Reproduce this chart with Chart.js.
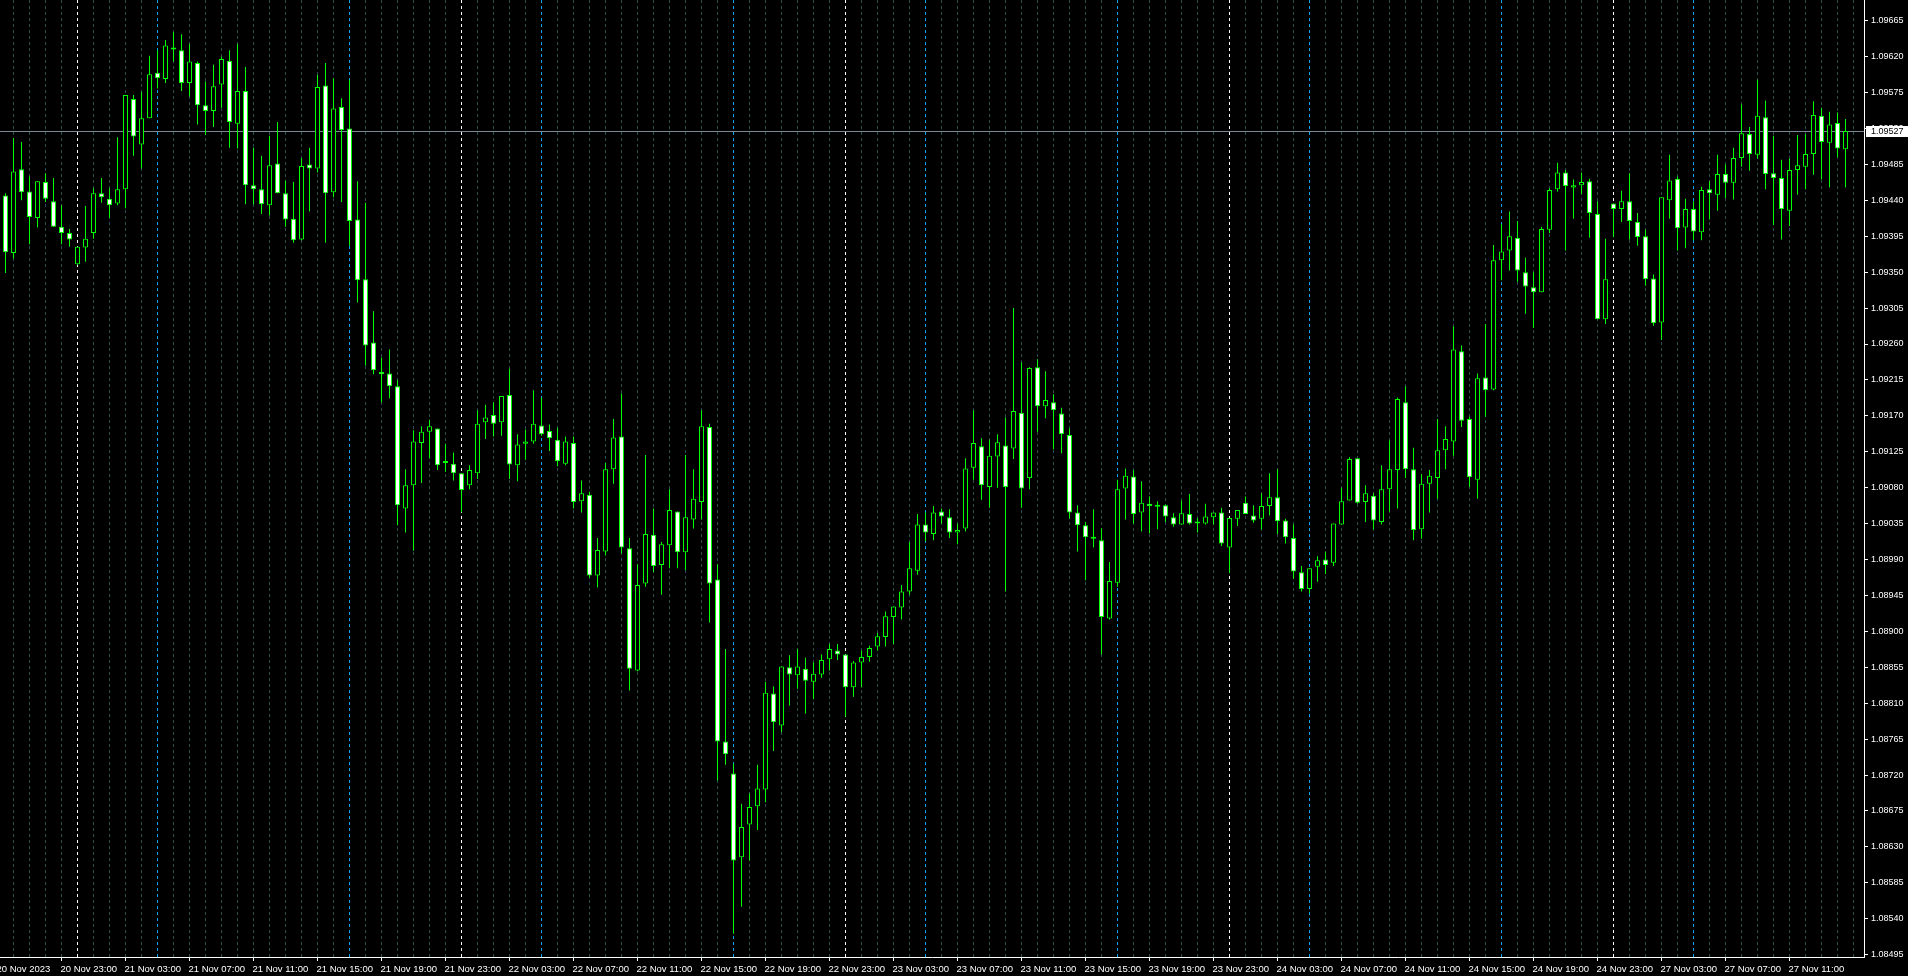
<!DOCTYPE html>
<html>
<head>
<meta charset="utf-8">
<script src="https://cdn.jsdelivr.net/npm/chart.js@4.4.0/dist/chart.umd.min.js"></script>
<style>
  html, body { margin: 0; padding: 0; background: #000; overflow: hidden; }
  #marco { width: 1908px; height: 976px; position: relative; }
</style>
</head>
<body>
<div id="marco"><canvas id="velas"></canvas></div>
<script>
// EURUSD, M30 - velas (20 Nov 19:30 -> 27 Nov 14:30)
const open = [
  1.09446, 1.09374, 1.09479, 1.09451, 1.09418, 1.09463, 1.09439, 1.09407, 1.09399, 1.09360, 1.09381, 1.09399,
  1.09449, 1.09442, 1.09436, 1.09454, 1.09567, 1.09510, 1.09543, 1.09600, 1.09592, 1.09631, 1.09628, 1.09587,
  1.09612, 1.09559, 1.09552, 1.09585, 1.09615, 1.09536, 1.09577, 1.09459, 1.09454, 1.09434, 1.09486, 1.09449,
  1.09417, 1.09391, 1.09485, 1.09480, 1.09584, 1.09450, 1.09557, 1.09530, 1.09416, 1.09341, 1.09262, 1.09225,
  1.09223, 1.09207, 1.09054, 1.09083, 1.09136, 1.09150, 1.09154, 1.09113, 1.09110, 1.09098, 1.09083, 1.09098,
  1.09162, 1.09171, 1.09162, 1.09196, 1.09108, 1.09135, 1.09138, 1.09158, 1.09151, 1.09140, 1.09110, 1.09136,
  1.09063, 1.09071, 1.08970, 1.09000, 1.09103, 1.09144, 1.09004, 1.08851, 1.08960, 1.09021, 1.08983, 1.09008,
  1.09050, 1.08999, 1.09040, 1.09062, 1.09156, 1.08965, 1.08762, 1.08722, 1.08617, 1.08658, 1.08681, 1.08702,
  1.08822, 1.08782, 1.08855, 1.08845, 1.08853, 1.08837, 1.08846, 1.08865, 1.08876, 1.08871, 1.08830, 1.08861,
  1.08868, 1.08881, 1.08893, 1.08918, 1.08930, 1.08950, 1.08976, 1.09034, 1.09022, 1.09050, 1.09043, 1.09024,
  1.09029, 1.09105, 1.09132, 1.09081, 1.09119, 1.09133, 1.09129, 1.09174, 1.09092, 1.09231, 1.09182, 1.09187,
  1.09173, 1.09146, 1.09049, 1.09033, 1.09016, 1.09014, 1.08916, 1.08961, 1.09079, 1.09094, 1.09049, 1.09060,
  1.09057, 1.09058, 1.09043, 1.09034, 1.09047, 1.09035, 1.09035, 1.09043, 1.09049, 1.09005, 1.09041, 1.09061,
  1.09045, 1.09041, 1.09057, 1.09068, 1.09039, 1.09017, 1.08974, 1.08953, 1.08981, 1.08990, 1.08986, 1.09034,
  1.09064, 1.09117, 1.09062, 1.09070, 1.09037, 1.09078, 1.09102, 1.09187, 1.09103, 1.09028, 1.09085, 1.09092,
  1.09127, 1.09138, 1.09251, 1.09166, 1.09090, 1.09218, 1.09203, 1.09365, 1.09377, 1.09393, 1.09350, 1.09331,
  1.09325, 1.09403, 1.09454, 1.09475, 1.09456, 1.09459, 1.09464, 1.09423, 1.09291, 1.09436, 1.09429, 1.09439,
  1.09413, 1.09395, 1.09342, 1.09287, 1.09440, 1.09467, 1.09406, 1.09429, 1.09400, 1.09454, 1.09447, 1.09473,
  1.09462, 1.09493, 1.09523, 1.09497, 1.09544, 1.09474, 1.09468, 1.09427, 1.09478, 1.09482, 1.09498, 1.09546,
  1.09512, 1.09537, 1.09504
];
const high = [
  1.09449, 1.09518, 1.09513, 1.09470, 1.09464, 1.09474, 1.09468, 1.09434, 1.09404, 1.09382, 1.09433, 1.09455,
  1.09468, 1.09455, 1.09519, 1.09572, 1.09572, 1.09576, 1.09621, 1.09628, 1.09641, 1.09651, 1.09648, 1.09636,
  1.09614, 1.09589, 1.09610, 1.09620, 1.09628, 1.09636, 1.09607, 1.09506, 1.09496, 1.09521, 1.09538, 1.09465,
  1.09463, 1.09493, 1.09506, 1.09597, 1.09612, 1.09593, 1.09568, 1.09591, 1.09464, 1.09437, 1.09301, 1.09243,
  1.09253, 1.09215, 1.09103, 1.09152, 1.09157, 1.09165, 1.09154, 1.09135, 1.09124, 1.09098, 1.09108, 1.09177,
  1.09184, 1.09187, 1.09195, 1.09229, 1.09147, 1.09153, 1.09202, 1.09193, 1.09159, 1.09155, 1.09144, 1.09144,
  1.09089, 1.09075, 1.09017, 1.09111, 1.09166, 1.09198, 1.09017, 1.08984, 1.09121, 1.09054, 1.09012, 1.09078,
  1.09050, 1.09121, 1.09103, 1.09177, 1.09160, 1.08984, 1.08878, 1.08734, 1.08684, 1.08697, 1.08733, 1.08837,
  1.08831, 1.08856, 1.08870, 1.08878, 1.08867, 1.08861, 1.08871, 1.08884, 1.08884, 1.08871, 1.08863, 1.08876,
  1.08882, 1.08898, 1.08925, 1.08931, 1.08958, 1.09012, 1.09047, 1.09049, 1.09057, 1.09054, 1.09053, 1.09035,
  1.09117, 1.09177, 1.09142, 1.09140, 1.09147, 1.09168, 1.09305, 1.09237, 1.09231, 1.09241, 1.09226, 1.09197,
  1.09180, 1.09154, 1.09058, 1.09037, 1.09053, 1.09029, 1.08987, 1.09090, 1.09104, 1.09102, 1.09088, 1.09069,
  1.09063, 1.09059, 1.09048, 1.09064, 1.09072, 1.09042, 1.09060, 1.09049, 1.09055, 1.09042, 1.09052, 1.09069,
  1.09058, 1.09073, 1.09098, 1.09103, 1.09041, 1.09034, 1.08982, 1.08979, 1.08994, 1.09000, 1.09035, 1.09080,
  1.09118, 1.09117, 1.09083, 1.09073, 1.09108, 1.09139, 1.09193, 1.09207, 1.09130, 1.09097, 1.09102, 1.09166,
  1.09157, 1.09282, 1.09258, 1.09169, 1.09223, 1.09285, 1.09384, 1.09410, 1.09426, 1.09414, 1.09368, 1.09350,
  1.09407, 1.09455, 1.09487, 1.09478, 1.09466, 1.09475, 1.09467, 1.09439, 1.09392, 1.09436, 1.09452, 1.09474,
  1.09424, 1.09403, 1.09347, 1.09444, 1.09497, 1.09470, 1.09442, 1.09439, 1.09457, 1.09464, 1.09497, 1.09485,
  1.09506, 1.09560, 1.09532, 1.09591, 1.09565, 1.09521, 1.09491, 1.09492, 1.09522, 1.09523, 1.09564, 1.09556,
  1.09551, 1.09550, 1.09542
];
const low = [
  1.09349, 1.09367, 1.09440, 1.09385, 1.09406, 1.09438, 1.09407, 1.09385, 1.09382, 1.09359, 1.09363, 1.09392,
  1.09437, 1.09418, 1.09434, 1.09430, 1.09496, 1.09480, 1.09543, 1.09580, 1.09587, 1.09614, 1.09577, 1.09570,
  1.09535, 1.09522, 1.09532, 1.09556, 1.09506, 1.09505, 1.09435, 1.09435, 1.09423, 1.09421, 1.09449, 1.09407,
  1.09387, 1.09390, 1.09426, 1.09475, 1.09387, 1.09444, 1.09438, 1.09383, 1.09312, 1.09233, 1.09222, 1.09187,
  1.09192, 1.09033, 1.09024, 1.09001, 1.09086, 1.09117, 1.09102, 1.09100, 1.09089, 1.09049, 1.09078, 1.09091,
  1.09141, 1.09144, 1.09145, 1.09091, 1.09088, 1.09115, 1.09135, 1.09145, 1.09126, 1.09107, 1.09108, 1.09054,
  1.09049, 1.08967, 1.08955, 1.08995, 1.09085, 1.08998, 1.08826, 1.08850, 1.08956, 1.08974, 1.08946, 1.08979,
  1.08979, 1.08977, 1.09029, 1.09040, 1.08911, 1.08713, 1.08733, 1.08521, 1.08555, 1.08613, 1.08651, 1.08686,
  1.08750, 1.08774, 1.08807, 1.08828, 1.08797, 1.08815, 1.08842, 1.08851, 1.08864, 1.08793, 1.08818, 1.08830,
  1.08862, 1.08876, 1.08881, 1.08884, 1.08915, 1.08946, 1.08971, 1.09013, 1.09014, 1.09035, 1.09017, 1.09009,
  1.09025, 1.09090, 1.09065, 1.09055, 1.09080, 1.08950, 1.09116, 1.09055, 1.09078, 1.09150, 1.09167, 1.09128,
  1.09123, 1.09041, 1.09000, 1.08964, 1.09005, 1.08871, 1.08915, 1.08956, 1.09040, 1.09035, 1.09025, 1.09023,
  1.09028, 1.09037, 1.09031, 1.09034, 1.09034, 1.09024, 1.09034, 1.09034, 1.09007, 1.08973, 1.09032, 1.09047,
  1.09036, 1.09028, 1.09045, 1.09022, 1.09010, 1.08966, 1.08950, 1.08947, 1.08962, 1.08972, 1.08982, 1.09034,
  1.09064, 1.09060, 1.09037, 1.09028, 1.09034, 1.09050, 1.09054, 1.09092, 1.09014, 1.09016, 1.09049, 1.09066,
  1.09103, 1.09120, 1.09156, 1.09081, 1.09066, 1.09169, 1.09202, 1.09340, 1.09352, 1.09338, 1.09298, 1.09280,
  1.09325, 1.09399, 1.09451, 1.09377, 1.09417, 1.09448, 1.09393, 1.09291, 1.09285, 1.09394, 1.09413, 1.09391,
  1.09383, 1.09333, 1.09283, 1.09265, 1.09417, 1.09377, 1.09380, 1.09390, 1.09390, 1.09416, 1.09427, 1.09443,
  1.09441, 1.09482, 1.09477, 1.09492, 1.09454, 1.09409, 1.09391, 1.09408, 1.09447, 1.09454, 1.09472, 1.09466,
  1.09456, 1.09494, 1.09456
];
const close = [
  1.09375, 1.09476, 1.09450, 1.09419, 1.09464, 1.09442, 1.09407, 1.09399, 1.09391, 1.09382, 1.09392, 1.09449,
  1.09444, 1.09434, 1.09454, 1.09572, 1.09520, 1.09543, 1.09598, 1.09593, 1.09634, 1.09629, 1.09587, 1.09614,
  1.09559, 1.09552, 1.09583, 1.09617, 1.09538, 1.09577, 1.09459, 1.09454, 1.09435, 1.09484, 1.09449, 1.09416,
  1.09390, 1.09483, 1.09480, 1.09582, 1.09449, 1.09555, 1.09528, 1.09414, 1.09340, 1.09258, 1.09227, 1.09222,
  1.09207, 1.09058, 1.09083, 1.09138, 1.09150, 1.09157, 1.09108, 1.09111, 1.09098, 1.09077, 1.09102, 1.09160,
  1.09168, 1.09160, 1.09195, 1.09109, 1.09134, 1.09138, 1.09160, 1.09147, 1.09142, 1.09113, 1.09138, 1.09062,
  1.09073, 1.08970, 1.09002, 1.09103, 1.09143, 1.09005, 1.08853, 1.08958, 1.09022, 1.08982, 1.09009, 1.09052,
  1.08999, 1.09043, 1.09066, 1.09157, 1.08960, 1.08762, 1.08746, 1.08613, 1.08655, 1.08680, 1.08703, 1.08823,
  1.08786, 1.08856, 1.08846, 1.08856, 1.08838, 1.08847, 1.08864, 1.08878, 1.08871, 1.08830, 1.08861, 1.08868,
  1.08879, 1.08894, 1.08919, 1.08931, 1.08950, 1.08979, 1.09034, 1.09024, 1.09049, 1.09044, 1.09024, 1.09027,
  1.09104, 1.09136, 1.09083, 1.09120, 1.09137, 1.09081, 1.09176, 1.09079, 1.09230, 1.09182, 1.09190, 1.09177,
  1.09147, 1.09049, 1.09033, 1.09018, 1.09016, 1.08918, 1.08963, 1.09078, 1.09095, 1.09047, 1.09061, 1.09057,
  1.09056, 1.09044, 1.09034, 1.09048, 1.09035, 1.09035, 1.09044, 1.09049, 1.09010, 1.09042, 1.09052, 1.09047,
  1.09039, 1.09057, 1.09068, 1.09038, 1.09018, 1.08975, 1.08953, 1.08979, 1.08989, 1.08983, 1.09035, 1.09063,
  1.09116, 1.09061, 1.09073, 1.09039, 1.09078, 1.09103, 1.09191, 1.09103, 1.09027, 1.09085, 1.09095, 1.09127,
  1.09141, 1.09253, 1.09164, 1.09093, 1.09217, 1.09202, 1.09365, 1.09376, 1.09395, 1.09352, 1.09332, 1.09325,
  1.09404, 1.09453, 1.09475, 1.09458, 1.09459, 1.09463, 1.09424, 1.09291, 1.09341, 1.09429, 1.09439, 1.09414,
  1.09394, 1.09341, 1.09286, 1.09444, 1.09465, 1.09405, 1.09429, 1.09401, 1.09453, 1.09449, 1.09473, 1.09462,
  1.09493, 1.09524, 1.09498, 1.09546, 1.09473, 1.09468, 1.09429, 1.09478, 1.09484, 1.09498, 1.09547, 1.09513,
  1.09535, 1.09505, 1.09527
];

// escala de precios (etiquetas del eje derecho)
const priceTicks = [
  1.08495, 1.08540, 1.08585, 1.08630, 1.08675, 1.08720, 1.08765, 1.08810, 1.08855,
  1.08900, 1.08945, 1.08990, 1.09035, 1.09080, 1.09125, 1.09170, 1.09215, 1.09260,
  1.09305, 1.09350, 1.09395, 1.09440, 1.09485, 1.09530, 1.09575, 1.09620, 1.09665
];
const months = ['Jan', 'Feb', 'Mar', 'Apr', 'May', 'Jun', 'Jul', 'Aug', 'Sep', 'Oct', 'Nov', 'Dec'];

// sesiones: primera vela 20 Nov 19:30, fin de semana tras la vela 200, lunes 27 Nov 00:00
const HALF_HOUR = 30 * 60 * 1000;
const firstBar = Date.UTC(2023, 10, 20, 19, 30);
const mondayBar = Date.UTC(2023, 10, 27, 0, 0);
const barsBeforeWeekend = 201;

function barTime(k) {
  const t = k < barsBeforeWeekend ? firstBar + k * HALF_HOUR : mondayBar + (k - barsBeforeWeekend) * HALF_HOUR;
  return new Date(t);
}

const pad = n => String(n).padStart(2, '0');
const xMin = -0.6875, xMax = 232.3125;
const yMin = 1.08492, yMax = 1.09691;

// una linea de rejilla por hora
let hourBars = [];
for (let k = -1; k <= Math.floor(xMax); k++) {
  if (barTime(k).getUTCMinutes() === 0) hourBars.push(k);
}

function labelFor(k) {
  if (k > open.length - 1) return '';
  const d = barTime(k);
  const h = d.getUTCHours();
  if (d.getUTCMinutes() !== 0 || h % 4 !== 3) return '';
  const dia = d.getUTCDate() + ' ' + months[d.getUTCMonth()];
  if (k === hourBars[0]) return dia + ' ' + d.getUTCFullYear();
  return dia + ' ' + pad(h) + ':00';
}

function gridColor(k) {
  const h = barTime(k).getUTCHours();
  if (h === 0) return '#ffffff';
  if (h === 5 || h === 17) return '#00a8f0';
  return '#2f4f4f';
}

const lastPrice = close[close.length - 1];

// linea del precio actual y su etiqueta
const priceLine = {
  id: 'priceLine',
  beforeDatasetsDraw(chart) {
    const {ctx, chartArea} = chart;
    const y = Math.round(chart.scales.y.getPixelForValue(lastPrice)) + 0.5;
    ctx.save();
    ctx.strokeStyle = '#778899';
    ctx.lineWidth = 1;
    ctx.beginPath();
    ctx.moveTo(chartArea.left, y);
    ctx.lineTo(chartArea.right, y);
    ctx.stroke();
    ctx.restore();
  },
  afterDraw(chart) {
    const {ctx, chartArea} = chart;
    const y = Math.round(chart.scales.y.getPixelForValue(lastPrice));
    ctx.save();
    ctx.fillStyle = '#ffffff';
    ctx.fillRect(chartArea.right + 2, y - 5, chart.width - chartArea.right - 2, 11);
    ctx.fillStyle = '#000000';
    ctx.font = '9px "Liberation Sans"';
    ctx.textBaseline = 'middle';
    ctx.fillText(lastPrice.toFixed(5), chartArea.right + 7, y + 0.5);
    ctx.restore();
  }
};

const ctx = document.getElementById('velas').getContext('2d');

const grafico = new Chart(ctx, {
  type: 'bar',
  data: {
    datasets: [{
        label: 'Cuerpos',
        data: open.map((o, i) => ({ x: i, y: [o, close[i]] })),
        backgroundColor: open.map((o, i) => close[i] < o ? '#ffffff' : '#000000'),
        borderColor: '#00ff00',
        borderWidth: 1,
        borderSkipped: false,
        barThickness: 5,
        minBarLength: 2,
        inflateAmount: 0,
        grouped: false,
        order: 1
      },
      {
        label: 'Mechas',
        data: high.map((h, i) => ({ x: i, y: [low[i], h] })),
        backgroundColor: '#00ff00',
        borderWidth: 0,
        barThickness: 1,
        inflateAmount: 0,
        grouped: false,
        order: 2
      }
    ]
  },
  options: {
    responsive: true,
    maintainAspectRatio: false,
    devicePixelRatio: 1,
    animation: false,
    layout: { padding: 0 },
    plugins: {
      legend: { display: false },
      tooltip: { enabled: false },
      title: { display: false }
    },
    scales: {
      x: {
        type: 'linear',
        min: xMin,
        max: xMax,
        bounds: 'data',
        offset: false,
        afterBuildTicks: s => { s.ticks = hourBars.map(k => ({ value: k })); },
        afterFit: s => { s.height = 19; s.paddingLeft = 0; s.paddingRight = 0; },
        grid: {
          offset: false,
          color: c => c.tick ? gridColor(c.tick.value) : '#2f4f4f',
          lineWidth: 1,
          drawTicks: true,
          tickLength: 4,
          tickColor: c => (c.tick && labelFor(c.tick.value)) ? '#ffffff' : 'rgba(0,0,0,0)'
        },
        border: { display: true, color: '#ffffff', width: 1, dash: [3, 3] },
        ticks: {
          autoSkip: false,
          maxRotation: 0,
          minRotation: 0,
          align: 'start',
          padding: 3,
          labelOffset: -1,
          color: '#ffffff',
          font: { family: 'Liberation Sans', size: 9.5 },
          callback: v => labelFor(v)
        }
      },
      y: {
        type: 'linear',
        position: 'right',
        min: yMin,
        max: yMax,
        bounds: 'data',
        afterBuildTicks: s => { s.ticks = priceTicks.map(v => ({ value: v })); },
        afterFit: s => { s.width = 44; s.paddingTop = 0; s.paddingBottom = 0; },
        grid: {
          drawOnChartArea: false,
          drawTicks: true,
          tickLength: 4,
          tickColor: '#ffffff',
          color: '#ffffff'
        },
        border: { display: true, color: '#ffffff', width: 1 },
        ticks: {
          padding: 3,
          color: '#ffffff',
          font: { family: 'Liberation Sans', size: 9 },
          callback: v => v.toFixed(5)
        }
      }
    }
  },
  plugins: [priceLine]
});
</script>
</body>
</html>
